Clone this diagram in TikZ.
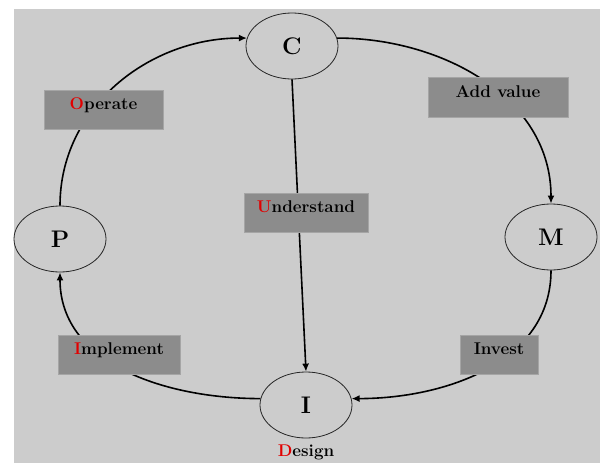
\documentclass[tikz,border=0pt]{standalone}
\usepackage{fontspec}
\usetikzlibrary{shapes.geometric,arrows.meta}
\definecolor{bggray}{RGB}{204,204,204}
\definecolor{boxgray}{RGB}{140,140,140}
\definecolor{boxedge}{RGB}{165,165,165}
\definecolor{redletter}{RGB}{225,0,0}
\begin{document}
\begin{tikzpicture}[x=1pt,y=1pt,
  stage/.style={ellipse,draw=black!85,line width=0.8pt,fill=bggray,minimum width=92pt,minimum height=66pt,inner sep=0pt,font=\fontsize{24}{24}\selectfont\bfseries},
  labelbox/.style={rectangle,fill=boxgray,draw=boxedge,line width=0.6pt,inner sep=0pt,minimum height=39pt,text height=11.5pt,text depth=11.5pt,font=\fontsize{17}{17}\selectfont\bfseries},
  plainlabel/.style={inner sep=0pt,font=\fontsize{17}{17}\selectfont\bfseries},
  flow/.style={line width=1.6pt,-{Latex[length=8pt,width=7pt]}}]

\useasboundingbox (0,0) rectangle (602,-463);
\fill[white] (0,0) rectangle (602,-463);
\fill[bggray] (14,-9) rectangle (600,-463);

\node[stage] (C) at (292,-46) {C};
\node[stage] (M) at (551,-237) {M};
\node[stage] (I) at (306,-405) {I};
\node[stage] (P) at (60,-239) {P};

\draw[flow] (P.north) to[out=90,in=180] (C.170);
\draw[flow] (C.10) to[out=0,in=90] (M.north);
\draw[flow] (M.south) to[out=-90,in=0] (I.8);
\draw[flow] (I.172) to[out=180,in=-90] (P.south);
\draw[flow] (C.south) -- (I.north);

\node[labelbox,minimum width=119pt] (op) at (103.5,-109.5) {\textcolor{redletter}{O}perate};
\node[labelbox,minimum width=140pt,minimum height=40pt] (av) at (498,-97) {Add value};
\node[labelbox,minimum width=124pt] (un) at (306,-212.5) {\textcolor{redletter}{U}nderstand};
\node[labelbox,minimum width=122pt] (im) at (119,-354.5) {\textcolor{redletter}{I}mplement};
\node[labelbox,minimum width=78pt] (iv) at (499,-354.5) {Invest};
\node[plainlabel] (de) at (306,-452) {\textcolor{redletter}{D}esign};
\end{tikzpicture}
\end{document}
